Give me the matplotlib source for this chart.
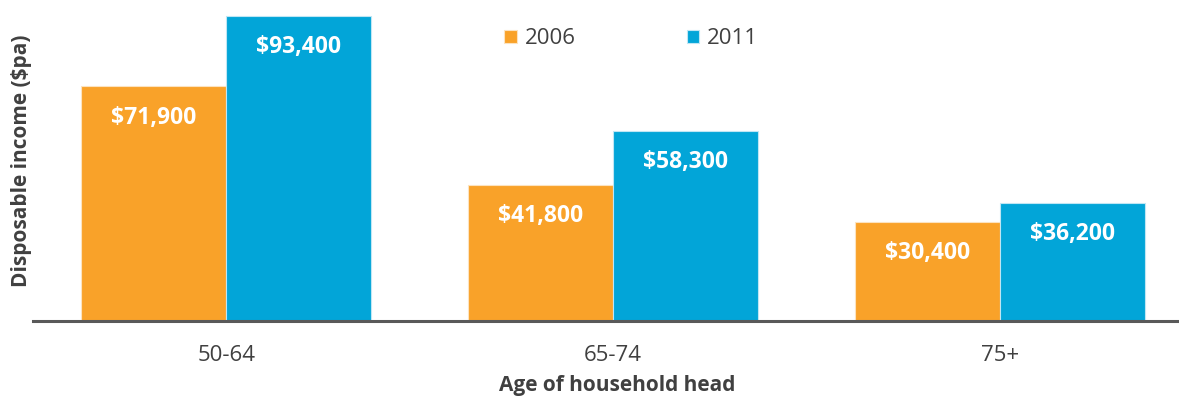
import matplotlib.pyplot as plt
import numpy as np

# Household disposable income by age of household head
age_groups = ['50-64', '65-74', '75+']
income_2006 = [71900, 41800, 30400]
income_2011 = [93400, 58300, 36200]

orange = '#F9A229'
blue = '#02A5D8'
text_grey = '#404040'

plt.rcParams['font.family'] = ['Open Sans', 'DejaVu Sans']

fig = plt.figure(figsize=(11.79, 3.97), dpi=100)
# axes runs a little past the right edge so the baseline reaches the border
ax = fig.add_axes([33 / 1179, 76 / 397, 1160 / 1179, 310 / 397])

x = np.arange(len(age_groups))
w = 0.375
b1 = ax.bar(x - w / 2, income_2006, w, color=orange, edgecolor='#FCE3C0',
            linewidth=0.8, label='2006')
b2 = ax.bar(x + w / 2, income_2011, w, color=blue, edgecolor='#BFE6F4',
            linewidth=0.8, label='2011')

for bars, vals in [(b1, income_2006), (b2, income_2011)]:
    for bar, v in zip(bars, vals):
        ax.annotate(f'${v:,}', (bar.get_x() + bar.get_width() / 2, v),
                    xytext=(0, -22.5), textcoords='offset points',
                    ha='center', va='center', color='white',
                    fontsize=16.5, fontweight='bold')

ax.set_xlim(-0.5, 2.5)
ax.set_ylim(0, 95000)
ax.set_yticks([])
ax.set_xticks(x)
ax.set_xticklabels(age_groups, fontsize=16, color=text_grey)
ax.tick_params(axis='x', length=0, pad=17)

for s in ['top', 'right', 'left']:
    ax.spines[s].set_visible(False)
ax.spines['bottom'].set_color('#595959')
ax.spines['bottom'].set_linewidth(2.2)

fig.text(617 / 1179, 11 / 397, 'Age of household head', ha='center', va='center',
         fontsize=15, fontweight='bold', color=text_grey)
fig.text(22 / 1179, 1 - 161 / 397, 'Disposable income ($pa)', ha='center', va='center',
         rotation=90, fontsize=15, fontweight='bold', color=text_grey)

leg = ax.legend(ncol=2, loc='center', bbox_to_anchor=(631 / 1179, 1 - 39 / 397),
                bbox_transform=fig.transFigure, frameon=False, fontsize=16,
                handlelength=0.55, handleheight=0.55, handletextpad=0.35,
                columnspacing=5.0)
for t in leg.get_texts():
    t.set_color(text_grey)

fig.savefig('out.png', dpi=100)
